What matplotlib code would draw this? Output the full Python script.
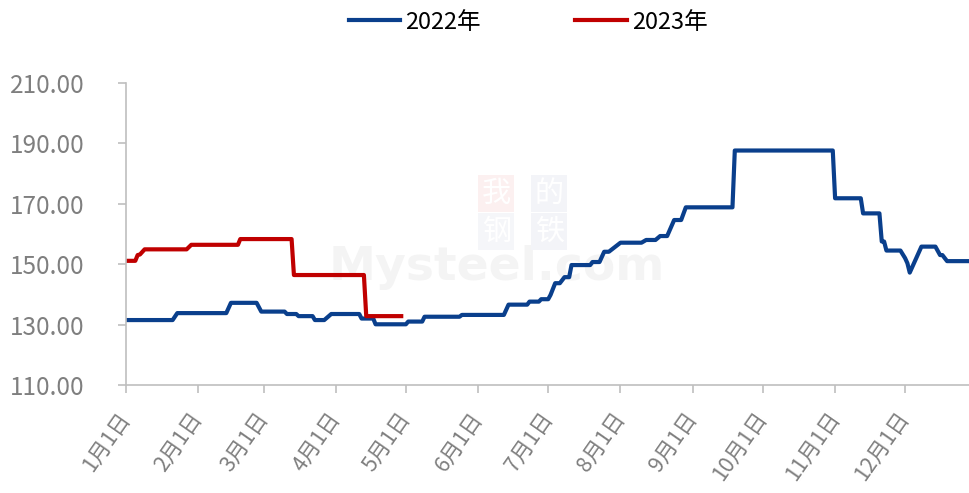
import numpy as np
import pandas as pd
import matplotlib
matplotlib.use("Agg")
import matplotlib.pyplot as plt

plt.rcParams['font.family'] = ['Noto Sans CJK SC', 'DejaVu Sans']

# 2022 price points (month-day, value)
dates_2022 = ["01-01", "01-21", "01-23", "02-13", "02-15", "02-26", "02-28", "03-10",
              "03-11", "03-15", "03-16", "03-22", "03-23", "03-27", "03-30", "04-11",
              "04-12", "04-17", "04-18", "05-01", "05-02", "05-08", "05-09", "05-24",
              "05-25", "06-12", "06-14", "06-22", "06-23", "06-27", "06-28", "07-01",
              "07-02", "07-04", "07-06", "07-08", "07-10", "07-11", "07-19", "07-20",
              "07-23", "07-25", "07-27", "07-29", "08-01", "08-10", "08-12", "08-16",
              "08-18", "08-21", "08-24", "08-27", "08-29", "09-18", "09-19", "10-31",
              "11-01", "11-12", "11-13", "11-20", "11-21", "11-22", "11-23", "11-29",
              "12-01", "12-02", "12-03", "12-08", "12-14", "12-16", "12-17", "12-19",
              "12-28"]
price_2022 = [131.5, 131.5, 133.8, 133.8, 137.2, 137.2, 134.3, 134.3,
              133.5, 133.5, 132.8, 132.8, 131.5, 131.5, 133.5, 133.5,
              132.0, 132.0, 130.1, 130.1, 131.0, 131.0, 132.6, 132.6,
              133.2, 133.2, 136.6, 136.6, 137.6, 137.6, 138.4, 138.4,
              139.8, 143.7, 143.7, 145.7, 145.7, 149.7, 149.7, 150.7,
              150.7, 154.1, 154.1, 155.3, 157.1, 157.1, 158.0, 158.0,
              159.3, 159.3, 164.6, 164.6, 168.8, 168.8, 187.6, 187.6,
              171.8, 171.8, 166.8, 166.8, 157.5, 157.5, 154.5, 154.5,
              152.0, 150.3, 147.2, 155.8, 155.8, 153.0, 153.0, 151.0,
              151.0]

# 2023 price points
dates_2023 = ["01-01", "01-05", "01-06", "01-07", "01-09", "01-27", "01-29", "02-18",
              "02-19", "03-13", "03-14", "04-13", "04-14", "04-29"]
price_2023 = [151.1, 151.1, 153.0, 153.2, 154.9, 154.9, 156.4, 156.4,
              158.3, 158.3, 146.4, 146.4, 132.8, 132.8]

month_labels = ["1月1日", "2月1日", "3月1日", "4月1日", "5月1日", "6月1日",
                "7月1日", "8月1日", "9月1日", "10月1日", "11月1日", "12月1日"]


def day_of_year(md):
    d = pd.to_datetime(["2022-" + s for s in md])
    return np.array(d.dayofyear - 1)


x22 = day_of_year(dates_2022)
x23 = day_of_year(dates_2023)
month_ticks = day_of_year(["%02d-01" % m for m in range(1, 13)])

fig = plt.figure(figsize=(9.69, 4.93), dpi=100)
ax = fig.add_axes([0.130, 0.219, 0.870, 0.613])
ax.set_zorder(2)
ax.patch.set_alpha(0)

# faint watermark behind the chart
fig.text(0.513, 0.458, "Mysteel.com", fontsize=34, fontweight="bold",
         color="#f4f4f4", ha="center", va="center", family="DejaVu Sans", zorder=0)
for (tx, ty, ch, bg) in [(0.512, 0.607, "我", "#fcf0f0"), (0.567, 0.607, "的", "#f3f4f8"),
                         (0.512, 0.530, "钢", "#f5f6f9"), (0.567, 0.530, "铁", "#f3f4f8")]:
    fig.text(tx, ty, ch, fontsize=21, color="white", ha="center", va="center",
             bbox=dict(boxstyle="square,pad=0.12", fc=bg, ec="none"), zorder=0)

ax.plot(x22, price_2022, color="#0a3f8c", lw=3, label="2022年", solid_joinstyle="round")
ax.plot(x23, price_2023, color="#c00000", lw=3, label="2023年", solid_joinstyle="round")

ax.set_xlim(0, 361.4)
ax.set_ylim(110, 210)
ax.set_yticks(np.arange(110, 211, 20))
ax.set_yticklabels(["%.2f" % v for v in np.arange(110, 211, 20)])
ax.set_xticks(month_ticks)
ax.set_xticklabels(month_labels, rotation=55, ha="right", va="center",
                   rotation_mode="anchor")

for s in ["top", "right"]:
    ax.spines[s].set_visible(False)
for s in ["left", "bottom"]:
    ax.spines[s].set_color("#bfbfbf")
    ax.spines[s].set_linewidth(1.2)
ax.tick_params(axis="y", colors="#bfbfbf", labelcolor="#7f7f7f", labelsize=17.5,
               length=6, width=1.2, pad=24)
ax.tick_params(axis="x", colors="#bfbfbf", labelcolor="#7f7f7f", labelsize=15.5,
               length=6, width=1.2, pad=15)

fig.legend(loc="center", bbox_to_anchor=(0.545, 0.955), ncol=2, frameon=False,
           fontsize=17, handlelength=2.2, handletextpad=0.2, columnspacing=4.0)

fig.savefig("out.png", dpi=100)
